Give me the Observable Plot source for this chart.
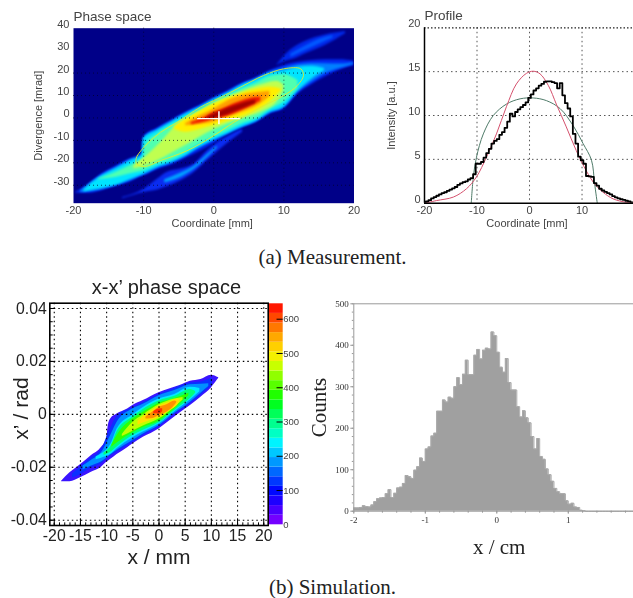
<!DOCTYPE html>
<html><head><meta charset="utf-8">
<script src="https://cdn.jsdelivr.net/npm/d3@7"></script>
<script src="https://cdn.jsdelivr.net/npm/@observablehq/plot@0.6"></script>
<style>
html,body{margin:0;padding:0;background:#fff}
#page{position:relative;width:633px;height:598px;overflow:hidden}
#page>svg{position:absolute;overflow:visible;max-width:none}
.cap{position:absolute;left:0;width:665px;text-align:center;font:21px/22px "Liberation Serif",serif;color:#222}
</style></head><body><div id="page"></div>
<script>
// ---- (a) measured phase space: [coordinate mm, lower mrad, upper mrad] per intensity level
const mOuter=[[-19.7,-33.5,-33],[-18,-33.6,-30.2],[-16,-32.4,-25],[-14,-30.6,-21.6],[-12,-28.7,-18.3],[-10.2,-26,-15.8],[-10,-25.8,-8.6],[-8,-23,-4.5],[-6,-20.9,-1],[-4,-18,2.5],[-2,-15,5.5],[0,-11.5,9],[2,-7.5,12],[4,-4.5,15.3],[6,-2,17.8],[8,1.8,21],[10,4,23.4],[12,10.7,24.8],[14,14.9,25.6],[16,18.5,25.9],[18,21.4,25.9],[20,23.4,25.3]];
const mBlue=[[-19,-33.2,-32.5],[-16,-32,-25.5],[-14,-30.1,-22.2],[-12,-28.1,-18.8],[-10.2,-25.6,-16.2],[-10,-25.4,-9],[-8,-22.4,-5],[-6,-20.2,-1.5],[-4,-17.2,2],[-2,-13.4,5],[0,-10.2,8.5],[2,-7,11.5],[4,-4.2,14.9],[6,-1.8,17.4],[8,2.1,20.4],[10,4.5,22.2],[12,11.3,23.7],[14,16,24.3],[16,19.8,24.2],[18,22,24],[20,23.8,24.6]];
const mCyan=[[-18.5,-33,-32],[-16,-31.4,-26],[-14,-30,-22.8],[-12,-27.5,-19.3],[-10.2,-25.3,-16.5],[-10,-25,-9.4],[-8,-22,-5.5],[-6,-19.8,-1.9],[-4,-16.8,1.6],[-2,-13,4.6],[0,-9.8,8],[2,-7,11],[4,-4,14.5],[6,-1.5,17],[8,2.5,19.8],[10,5,21],[12,12,22.6],[14,17.4,23],[15.8,21,22]];
const mTeal=[[-16.5,-27.5,-27.2],[-14,-26.5,-24.3],[-12,-25,-21.3],[-10,-23.5,-17.6],[-9.8,-23.3,-12],[-8,-20.8,-7],[-6,-18.8,-3.2],[-4,-15.5,0],[-2,-11.6,3.5],[0,-8.5,7.2],[2,-5.7,10],[4,-2.7,13],[6,-.4,15.5],[8,3.7,18.5],[10,7,19.4],[12,13,16.7]];
const mLime=[[-11.4,-22.8,-21.3],[-9,-20.5,-15.3],[-7,-17.5,-9],[-5,-14,-2.2],[-3,-10.5,1],[-1,-6.8,4.5],[1,-3.9,8],[3,-1.5,10.5],[5,.5,13],[7,3,15],[9,7,16.4],[10,12,14.6]];
const mYellow=[[-5.6,-4.9,-3.9],[-4,-6.4,-.5],[-2,-5.2,3],[0,-3.4,6.2],[2,-1.5,8.8],[4,.5,11],[6,3,12.8],[8,7,13.8],[9.6,12,13]];
const mOrange=[[-4,-3.5,-2.5],[-2,-2.9,1],[0,-1.9,4],[2,.2,7.7],[4,2.4,10],[6,5,11.2],[8,9.5,11.9]];
const mRed=[[-3.2,-3,-2],[-1,-1.6,.8],[0,-.5,2.5],[1,0,3.6],[3,2,6.4],[5,4.8,8.6],[6.7,7.4,9.3]];
const mDark=[[-1,-.6,.3],[0,-.3,1.8],[1,.5,3],[2,1.4,4.3],[3,2.8,5.4],[4.5,4.5,7],[6,6.5,8]];
const mPlume=[[9,23.4,23.6],[10.6,25.6,29.3],[11.2,26,30.8],[13.1,28.6,34.2],[15.9,32.3,37],[18.8,37.5,38.5]];
const mPlumeCore=[[11,27,28.5],[13,30,32],[15.5,33.5,35.5],[17,35.6,36.6]];
const mStripe=[[-13,-36,-35.5],[-9.9,-33.2,-31.7],[-8,-32.1,-27.2],[-6.6,-30.6,-24.2],[-4.7,-28,-22.8],[-2.8,-24.3,-20.5],[-.9,-19,-14.6],[1,-13.8,-10.1],[4.1,-6.4,-4.9]];
const mStripeCore=[[-7,-29,-27.5],[-4.7,-26.5,-24.5],[-2.8,-23,-21.5],[-1,-18,-16.5],[.5,-13.5,-12.5]];
const mEllipseX=[-11.1,-10.9,-9.5,-7.6,-5.2,-1.9,1,3.8,7.1,10,12.4,12.8,11.9,10,6.7,2.9,0,-3.8,-7.6,-9.9,-11];
const mEllipseY=[-19,-16.8,-11.6,-6.4,-1.9,4.8,9.2,13.7,18.9,21.9,21.9,18.9,14.4,10,4.8,-1.9,-7.9,-14.6,-19,-21.7,-20.5];

// ---- (a) profile
const profX=d3.range(-20,20.5,.5);
const profY=[0,.2,.35,.55,.7,.85,1,1.15,1.25,1.4,1.55,1.7,1.85,2.1,2.25,2.4,2.5,2.7,2.85,3.3,4.5,4.5,4.7,5.2,5.7,6.2,6.8,7.1,7.3,7.8,8.1,8.6,9.3,10.2,9.9,10.4,10.7,10.95,11.2,11.5,12,12.4,12.85,13.1,13.4,13.6,13.85,13.9,13.9,13.8,13.7,13.1,13.7,12.3,11.4,10.8,9.9,7.9,6.8,5.3,4.9,4.5,3.1,3.05,3,2.3,2,1.65,1.45,1.3,1.15,1,.8,.67,.55,.45,.38,.28,.2,.1,.05];
const redX=[-20,-17.7,-14.5,-12,-10.1,-8.2,-6.3,-4.4,-2.5,-.6,.7,2,3.6,5.1,7,8.9,10.8,12.4,14,15.9,18.4,20];
const redY=[0,.3,.7,1.65,3,5.25,7.9,11,13.6,14.8,15.05,14.75,13.4,11.3,8.7,6,3.7,2.2,1.25,.5,.1,0];
const greenX=[-11.1,-10.7,-10.1,-8.8,-6.9,-4.4,-1.8,.7,3.2,5.8,8.3,10.2,11.8,12.4,12.9];
const greenY=[0,3,5.25,7.9,10,11.3,11.9,12,11.7,10.8,8.85,6.8,4.9,2.2,0];

// ---- (b) simulated phase space: [x mm, lower mrad, upper mrad] per level
const sL1=[[-18.6,-25.5,-25.3],[-17,-25.5,-22.1],[-15,-24,-19],[-13,-22,-15.7],[-11,-20,-12.5],[-10,-18.1,-9.3],[-9.7,-17.7,-4.5],[-9.2,-17,-1.7],[-8,-15.2,.1],[-6,-12.6,2],[-5,-11.2,3.3],[-3,-8.7,5.2],[0,-5.5,8.2],[2,-2.5,9.6],[4,.5,10.9],[6,3.3,12.5],[8,6.5,13.2],[10,10,14.8],[11.4,13.6,13.8]];
const sL2=[[-16.5,-24,-22.5],[-15,-22.8,-20],[-13,-20.5,-16.5],[-11,-18.7,-13.3],[-9.5,-16,-6.5],[-8,-14.2,-.8],[-5,-10.6,2.5],[-3,-8,4.4],[0,-4.8,7.4],[3,0,9.8],[6,4,11.8],[8,7.2,12.2],[10.2,11,13.7]];
const sL3=[[-14.5,-21,-19.5],[-13,-19.6,-17.5],[-11,-18,-14.5],[-9,-15,-7],[-8,-13.6,-3],[-5,-9.9,2],[-3,-7.4,3.8],[0,-4.3,7],[3,.4,9],[6,4.6,11.2],[8,8,11.4],[9.5,10.5,11.6]];
const sL4=[[-12,-17.2,-16],[-11,-16.6,-15],[-9,-14.8,-10.5],[-8,-13,-5.5],[-5,-8.8,-.2],[-3,-6.7,2.6],[0,-3.6,5.8],[3,1,7.5],[6,5.4,10.2],[7.8,8.5,9.8]];
const sL5=[[-10.5,-15.5,-14.5],[-9,-14,-11.5],[-8,-12.3,-6.5],[-5,-8,-1],[-3,-6,1.8],[0,-3.2,5],[3,1.5,6.8],[6,6,9.4],[7,8,8.6]];
const sL6=[[-9,-12.4,-11.6],[-8,-10.8,-8],[-5,-7,-1.8],[-3,-5,.8],[0,-2.6,4.2],[3,2,6],[5.7,7,8]];
const sL7=[[-7,-8.4,-7.6],[-5,-6.4,-3],[-3,-4.4,-.2],[0,-1.8,3.6],[3,2.6,5.8],[4.6,5.4,6.4]];
const sL8=[[-4,-4,-2.6],[-2,-2.6,.5],[0,-1.2,3.1],[2,1.4,4.6],[3.6,3.6,5.7],[4,5,5.2]];
const sL9=[[-2.5,-1.8,-1],[-1.5,-1.7,.4],[0,-.5,2.6],[1.5,.8,3.6],[3,3.3,5],[3.4,4.4,4.8]];
const sL10=[[-1,.3,1],[0,.1,2],[.7,1,2.1]];
const barColors=["#7400ff","#4a00ff","#1e00ff","#0008ff","#0038ff","#0068ff","#0098ff","#00c8ff","#00f4ff","#00ffc4","#00ff90","#00ff58","#00ff20","#20ff00","#58ff00","#90ff00","#c8ff00","#f4f000","#ffd000","#ffa800","#ff7800","#ff4800","#ff1800"];

// ---- (b) histogram
const histCounts=[8,8,9,13,11,10,15,23,30,32,33,42,52,33,43,56,58,67,86,83,79,99,107,128,120,150,155,181,188,241,241,268,263,275,272,300,322,305,330,364,329,329,376,390,367,388,393,391,432,423,383,347,335,368,310,292,292,252,227,242,225,213,180,150,175,132,125,102,88,72,55,47,42,42,25,17,19,10,9,2,1,0,0,0,0,0,0,0,0,0,0,0,0,0,0,0,0,0,0,0];
const histBin=.04, histStart=-2;

const page=document.getElementById("page");
const place=(svg,left,top)=>{svg.style.left=left+"px";svg.style.top=top+"px";page.appendChild(svg)};
const sans='"Liberation Sans",Arial,sans-serif', serif='"Liberation Serif",serif';
const band=(rows,fill,filter,k=1)=>Plot.area(rows,{x1:d=>d[0],y1:d=>d[1]*k,y2:d=>d[2]*k,fill,clip:true,imageFilter:filter,curve:"monotone-x"});
const idx=a=>a.map((_,i)=>i);
const label=(t,o)=>Plot.text([t],{fontFamily:sans,fill:"#444",lineAnchor:"middle",textAnchor:"middle",...o});

// Panel 1: measured phase space
{
 const f="blur(1px)", grey="#444";
 place(Plot.plot({width:370,height:235,marginLeft:73,marginRight:16.5,marginTop:27.7,marginBottom:32.3,
  style:{fontFamily:sans,background:"transparent",overflow:"visible",filter:"blur(0.3px)"},
  x:{domain:[-20,20]},y:{domain:[-38,40]},
  marks:[
   Plot.frame({fill:"#000088",stroke:"none"}),
   band(mStripe,"#0a2cf0",f),band(mStripeCore,"#00a0ff",f),
   band(mPlume,"#0028e8",f),band(mPlumeCore,"#0058ff",f),
   band(mOuter,"#0028f0",f),band(mBlue,"#0080ff",f),band(mCyan,"#00e4ff",f),band(mTeal,"#50ffb0",f),
   band(mLime,"#c0ff50",f),band(mYellow,"#ffee00",f),band(mOrange,"#ffa000",f),band(mRed,"#f01800",f),band(mDark,"#a00000",f),
   Plot.ruleX([-10,0,10],{stroke:"#002",strokeOpacity:.7,strokeDasharray:"1,3",strokeWidth:1}),
   Plot.ruleY([-30,-20,-10,0,10,20],{stroke:"#002",strokeOpacity:.7,strokeDasharray:"1,3",strokeWidth:1}),
   Plot.line(idx(mEllipseX),{x:i=>mEllipseX[i],y:i=>mEllipseY[i],stroke:"#dcec30",strokeWidth:.9,curve:"catmull-rom-closed"}),
   Plot.ruleY([-.3],{x1:-2.3,x2:3.8,stroke:"#fff",strokeWidth:1.2}),
   Plot.ruleX([.74],{y1:-3,y2:2.8,stroke:"#fff",strokeWidth:1.5}),
   Plot.axisX({ticks:[-20,-10,0,10,20],tickSize:0,tickPadding:3,tickFormat:String,fontSize:11,fill:grey,label:null}),
   Plot.axisY({ticks:[-30,-20,-10,0,10,20,30,40],tickSize:0,tickPadding:4,dy:-4,tickFormat:String,fontSize:11,fill:grey,label:null}),
   label("Phase space",{frameAnchor:"top-left",textAnchor:"start",dy:-12,fontSize:13.5}),
   label("Coordinate [mm]",{frameAnchor:"bottom",dy:20,dx:-1.5,fontSize:11}),
   label("Divergence [mrad]",{frameAnchor:"left",rotate:-90,dx:-35.3,fontSize:11})
  ]}),0,0);
}
// Panel 2: profile
{
 const grey="#444", dots={stroke:"#555",strokeDasharray:"1.5,3",strokeWidth:1};
 place(Plot.plot({width:263,height:235,marginLeft:54,marginRight:0,marginTop:27.3,marginBottom:32.3,
  style:{fontFamily:sans,background:"transparent",overflow:"visible",filter:"blur(0.3px)"},
  x:{domain:[-20,19.8]},y:{domain:[0,20]},
  marks:[
   Plot.ruleX([-10,0,10],dots),Plot.ruleY([5,10,15],dots),
   Plot.ruleY([20],{stroke:"#222",strokeDasharray:"1.5,2",strokeWidth:1.2}),
   Plot.line(idx(greenX),{x:i=>greenX[i],y:i=>greenY[i],stroke:"#4e7a68",strokeWidth:1,curve:"catmull-rom"}),
   Plot.line(idx(redX),{x:i=>redX[i],y:i=>redY[i],stroke:"#d4506c",strokeWidth:1,curve:"catmull-rom"}),
   Plot.line(idx(profX),{x:i=>profX[i],y:i=>profY[i],stroke:"#000",strokeWidth:1.8,curve:"step",clip:true}),
   Plot.ruleX([-20],{stroke:"#000",strokeWidth:1.5}),Plot.ruleY([0],{stroke:"#000",strokeWidth:1.5}),
   Plot.axisX({ticks:[-20,-10,0,10],tickSize:0,tickPadding:3,tickFormat:String,fontSize:11,fill:grey,label:null}),
   Plot.axisY({ticks:[0,5,10,15,20],tickSize:0,tickPadding:4,dy:-4,tickFormat:String,fontSize:11,fill:grey,label:null}),
   label("Profile",{frameAnchor:"top-left",textAnchor:"start",dy:-12,fontSize:13.5}),
   label("Coordinate [mm]",{frameAnchor:"bottom",dy:20,dx:-2,fontSize:11}),
   label("Intensity [a.u.]",{frameAnchor:"left",rotate:-90,dx:-33,fontSize:11})
  ]}),370,0);
}
// Panel 3: simulated phase space
{
 const f="blur(0.6px)", k=.001, dots={stroke:"#000",strokeDasharray:"1.5,3",strokeWidth:1.1};
 const black="#222", big={fontFamily:sans,fill:black,lineAnchor:"middle",textAnchor:"middle"};
 place(Plot.plot({width:268,height:300,marginLeft:49.3,marginRight:.3,marginTop:32.7,marginBottom:45,
  style:{fontFamily:sans,background:"transparent",overflow:"visible",filter:"blur(0.3px)"},
  x:{domain:[-20.85,20.85]},y:{domain:[-.042,.042]},
  marks:[
   band(sL1,"#3a14ff",f,k),band(sL2,"#0a30ff",f,k),band(sL3,"#0090ff",f,k),band(sL4,"#00e8ff",f,k),band(sL5,"#00ff78",f,k),
   band(sL6,"#30ff00",f,k),band(sL7,"#c0ff00",f,k),band(sL8,"#ffe000",f,k),band(sL9,"#ff9000",f,k),band(sL10,"#ff3000",f,k),
   Plot.ruleX([-20,-15,-10,-5,0,5,10,15,20],dots),
   Plot.ruleY([-.04,-.02,0,.02,.04],dots),
   Plot.ruleY(d3.range(-.04,.0401,.005),{x1:-20.85,x2:-20.2,stroke:"#000"}),
   Plot.ruleY(d3.range(-.04,.0401,.02),{x1:-20.85,x2:-19.9,stroke:"#000"}),
   Plot.ruleX(d3.range(-20,20.1,5),{y1:-.042,y2:-.0395,stroke:"#000"}),
   Plot.ruleX(d3.range(-20,20.1,1),{y1:-.042,y2:-.041,stroke:"#000"}),
   Plot.frame({stroke:"#000",strokeWidth:1.6}),
   Plot.axisX({ticks:[-20,-15,-10,-5,0,5,10,15,20],tickSize:0,tickPadding:4,tickFormat:String,fontSize:15.8,fill:black,label:null}),
   Plot.axisY({ticks:[-.04,-.02,0,.02,.04],tickSize:0,tickPadding:3,tickFormat:d=>String(+d.toFixed(2)),fontSize:15.8,fill:black,label:null}),
   Plot.text(["x-x’ phase space"],{frameAnchor:"top",dy:-16,dx:7.5,fontSize:20,...big}),
   Plot.text(["x / mm"],{frameAnchor:"bottom",dy:31.7,fontSize:21,...big}),
   Plot.text(["x’ / rad"],{frameAnchor:"left",rotate:-90,dx:-28.6,dy:-5.8,fontSize:21,...big})
  ]}),0,270);
 // colour bar
 const step=645/barColors.length;
 const bar=barColors.map((c,i)=>({c,lo:i*step,hi:(i+1)*step}));
 place(Plot.plot({width:40,height:300,marginLeft:1,marginRight:25.3,marginTop:33.3,marginBottom:45.7,
  style:{fontFamily:sans,background:"transparent",overflow:"visible",filter:"blur(0.3px)"},
  x:{domain:[0,1],axis:null},y:{domain:[0,645]},color:{type:"identity"},
  marks:[
   Plot.rect(bar,{x1:0,x2:1,y1:"lo",y2:"hi",fill:"c"}),
   Plot.ruleY([100,200,300,400,500,600],{x1:.55,x2:1,stroke:"#000",strokeWidth:1}),
   Plot.axisY({anchor:"right",ticks:[0,100,200,300,400,500,600],tickSize:0,tickPadding:0,tickFormat:String,fontSize:9.5,fill:"#444",label:null})
  ]}),268,270);
}
// Panel 4: histogram
{
 const grey="#999", txt="#333", big={fontFamily:serif,fill:"#222",lineAnchor:"middle",textAnchor:"middle"};
 const bins=histCounts.map((c,i)=>({x:histStart+i*histBin,c}));
 place(Plot.plot({width:333,height:270,marginLeft:53.3,marginRight:0,marginTop:13.3,marginBottom:49.3,
  style:{fontFamily:serif,background:"transparent",overflow:"visible",filter:"blur(0.4px)"},
  x:{domain:[-2,1.912]},y:{domain:[0,500]},
  marks:[
   Plot.area(bins,{x1:"x",y1:0,y2:"c",curve:"step-after",fill:"#a0a0a0"}),
   Plot.line(bins,{x:"x",y:"c",curve:"step-after",stroke:"#aaa",strokeWidth:1}),
   Plot.ruleY([0,500],{stroke:grey,strokeWidth:1}),
   Plot.ruleX([-2],{stroke:grey,strokeWidth:1}),
   Plot.axisX({ticks:d3.range(-2,1.91,.2),tickSize:2,tickPadding:0,tickFormat:()=>"",stroke:grey,label:null}),
   Plot.axisX({ticks:[-2,-1,0,1],tickSize:3,tickPadding:2,tickFormat:String,fontSize:9,fill:txt,stroke:grey,label:null}),
   Plot.axisY({ticks:d3.range(0,501,20),tickSize:1.5,tickPadding:0,tickFormat:()=>"",stroke:grey,label:null}),
   Plot.axisY({ticks:[0,100,200,300,400,500],tickSize:3,tickPadding:2,tickFormat:String,fontSize:9,fill:txt,stroke:grey,label:null}),
   Plot.text(["Counts"],{frameAnchor:"left",rotate:-90,dx:-35,fontSize:21,...big}),
   Plot.text(["x / cm"],{frameAnchor:"bottom",dy:36,dx:5.5,fontSize:21,...big})
  ]}),300,290);
}
for(const [t,y] of [["(a) Measurement.",246],["(b) Simulation.",576]]){
 const d=document.createElement("div");d.className="cap";d.textContent=t;d.style.top=y+"px";page.appendChild(d);
}
</script></body></html>
